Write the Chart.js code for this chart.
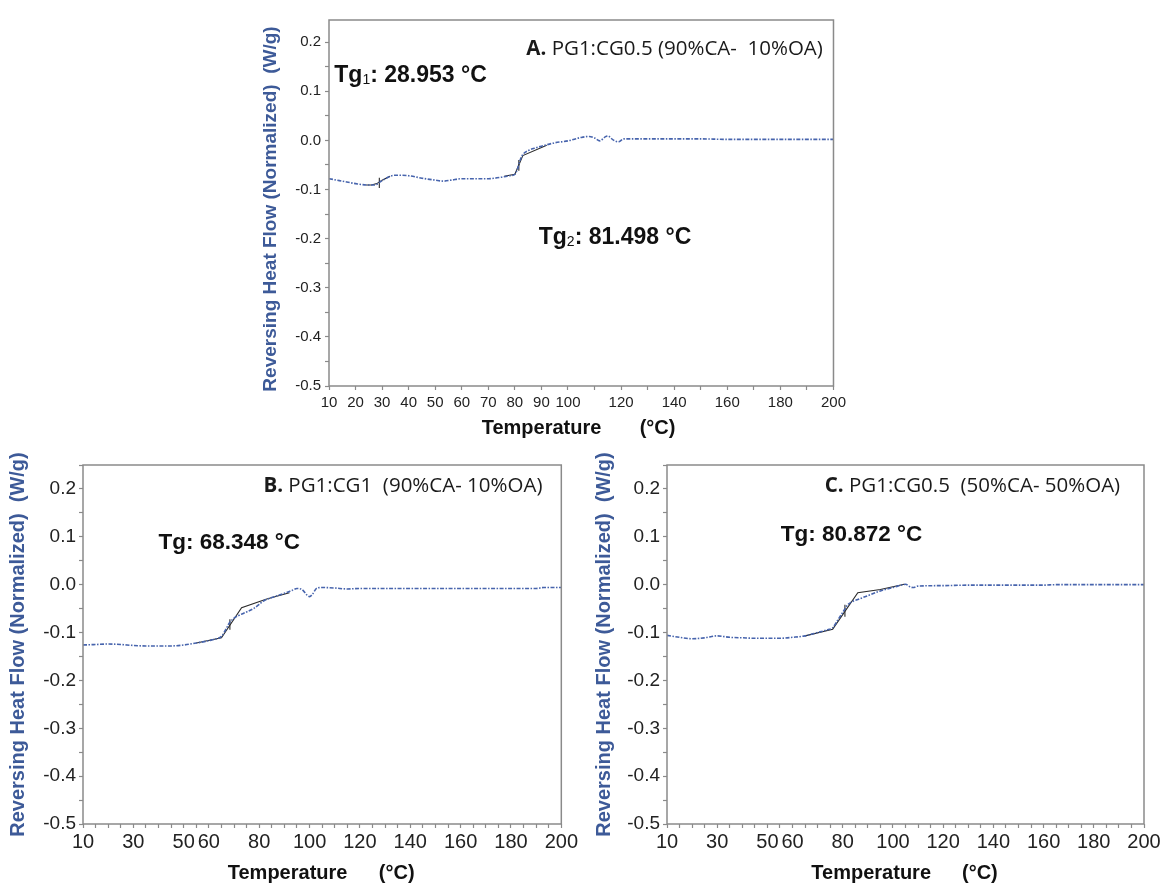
<!DOCTYPE html>
<html>
<head>
<meta charset="utf-8">
<title>Reversing heat flow</title>
<script src="https://cdn.jsdelivr.net/npm/chart.js@4.4.0/dist/chart.umd.min.js"></script>
<style>
  html, body { margin: 0; padding: 0; background: #fff; }
  #page { position: relative; width: 1165px; height: 884px; overflow: hidden; background: #fff; }
  canvas { position: absolute; }
</style>
</head>
<body>
<div id="page">
  <canvas id="chartA" width="620" height="445" style="left:230px;top:0"></canvas>
  <canvas id="chartB" width="580" height="444" style="left:0;top:440px"></canvas>
  <canvas id="chartC" width="582" height="444" style="left:583px;top:440px"></canvas>
</div>
<script>
// reversing heat flow curves (W/g) against temperature (°C)
const tempA = [10, 15, 20, 25, 27, 30, 33, 35, 40, 45, 50, 53, 56, 60, 65, 70, 75, 78, 80, 81, 82, 83, 85, 88, 90, 95, 100, 105, 108, 110, 112, 114, 115, 117, 119, 121, 130, 140, 150, 160, 170, 180, 190, 200];
const flowA = [-0.078, -0.083, -0.088, -0.091, -0.091, -0.082, -0.073, -0.071, -0.072, -0.077, -0.081, -0.083, -0.081, -0.078, -0.078, -0.078, -0.075, -0.072, -0.069, -0.058, -0.040, -0.029, -0.021, -0.015, -0.012, -0.005, -0.001, 0.006, 0.008, 0.005, -0.001, 0.007, 0.009, 0.001, -0.003, 0.003, 0.003, 0.003, 0.003, 0.002, 0.002, 0.002, 0.002, 0.002];

const tempB = [10, 15, 20, 25, 30, 35, 40, 45, 50, 55, 60, 63, 65, 67, 68, 70, 72, 75, 78, 80, 82, 85, 90, 93, 95, 97, 99, 100, 101, 103, 105, 110, 115, 120, 140, 160, 180, 190, 193, 200];
const flowB = [-0.126, -0.125, -0.124, -0.125, -0.127, -0.128, -0.128, -0.128, -0.126, -0.122, -0.117, -0.113, -0.108, -0.091, -0.081, -0.070, -0.064, -0.057, -0.049, -0.041, -0.033, -0.027, -0.018, -0.012, -0.008, -0.010, -0.022, -0.025, -0.021, -0.007, -0.006, -0.007, -0.009, -0.008, -0.008, -0.008, -0.008, -0.008, -0.006, -0.006];

const tempC = [10, 15, 20, 25, 30, 35, 40, 45, 50, 55, 60, 65, 70, 74, 76, 78, 80, 82, 84, 86, 90, 95, 100, 104, 105, 107, 108, 110, 120, 130, 160, 165, 200];
const flowC = [-0.106, -0.110, -0.113, -0.111, -0.107, -0.110, -0.111, -0.112, -0.112, -0.112, -0.110, -0.107, -0.100, -0.094, -0.090, -0.074, -0.058, -0.042, -0.035, -0.031, -0.023, -0.013, -0.006, 0.000, 0.001, -0.005, -0.006, -0.003, -0.002, -0.001, -0.001, 0.000, 0.000];

// tangent construction lines used for the Tg analysis
const fitTempA1 = [24, 26, 28, 30, 33];
const fitFlowA1 = [-0.091, -0.091, -0.088, -0.081, -0.073];
const fitTempA2 = [76, 80, 81.5, 83, 92];
const fitFlowA2 = [-0.073, -0.069, -0.050, -0.031, -0.010];
const fitTempB = [55, 65, 73, 83, 92];
const fitFlowB = [-0.122, -0.111, -0.048, -0.030, -0.017];
const fitTempC = [65, 76, 86, 95, 104.5];
const fitFlowC = [-0.107, -0.093, -0.017, -0.010, 0.001];

// glass transition temperatures and the span of their marker ticks
const tgA = [28.953, 81.498];
const tgSpanA = [[-0.076, -0.097], [-0.040, -0.062]];
const tgB = [68.348];
const tgSpanB = [[-0.072, -0.094]];
const tgC = [80.872];
const tgSpanC = [[-0.042, -0.067]];

// tick labels
const xLabelsA = [10, 20, 30, 40, 50, 60, 70, 80, 90, 100, 120, 140, 160, 180, 200];
const xLabelsBC = [10, 30, 50, 60, 80, 100, 120, 140, 160, 180, 200];
const yLabels = [-0.5, -0.4, -0.3, -0.2, -0.1, 0.0, 0.1, 0.2];

const SANS = '"Liberation Sans", Arial, sans-serif';
const NOTE = '"Open Sans", "Liberation Sans", sans-serif';
const FRAME = '#8a8a8a';
const CURVE = '#4764ad';
const AXIS_TITLE = '#3d5a98';

function points(xs, ys) {
  return xs.map((x, i) => ({ x: x, y: ys[i] }));
}

function curveSet(xs, ys) {
  return {
    data: points(xs, ys), borderColor: CURVE, borderWidth: 1.6,
    borderDash: [4, 1.5, 1.5, 1.5], pointRadius: 0, cubicInterpolationMode: 'monotone'
  };
}

function fitSet(xs, ys) {
  return { data: points(xs, ys), borderColor: '#2a2a2a', borderWidth: 1.1, pointRadius: 0, tension: 0 };
}

function markerSets(tgs, spans) {
  return tgs.map((t, i) => ({
    data: [{ x: t, y: spans[i][0] }, { x: t, y: spans[i][1] }],
    borderColor: '#2a2a2a', borderWidth: 1.1, pointRadius: 0
  }));
}

// frame, axis titles and the text notes inside each panel
const panelText = {
  id: 'panelText',
  afterDraw(chart, args, o) {
    const { ctx, chartArea: a, scales: { x, y } } = chart;
    ctx.save();
    ctx.strokeStyle = FRAME;
    ctx.lineWidth = 1.5;
    ctx.strokeRect(a.left, a.top, a.right - a.left, a.bottom - a.top);

    // y title
    ctx.save();
    ctx.translate(a.left - o.yTitleGap, (a.top + a.bottom) / 2 + o.yTitleShift);
    ctx.rotate(-Math.PI / 2);
    ctx.fillStyle = AXIS_TITLE;
    ctx.font = 'bold ' + o.yTitleSize + 'px ' + SANS;
    ctx.textAlign = 'center';
    ctx.textBaseline = 'middle';
    ctx.fillText('Reversing Heat Flow (Normalized)  (W/g)', 0, 0);
    ctx.restore();

    // x title
    ctx.fillStyle = '#111';
    ctx.font = 'bold ' + o.xTitleSize + 'px ' + SANS;
    ctx.textAlign = 'left';
    ctx.textBaseline = 'middle';
    ctx.fillText('Temperature', x.getPixelForValue(o.xTitleAt[0]), a.bottom + o.xTitleGap);
    ctx.fillText('(°C)', x.getPixelForValue(o.xTitleAt[1]), a.bottom + o.xTitleGap);

    // sample name
    ctx.fillStyle = '#1a1a1a';
    ctx.textBaseline = 'middle';
    ctx.font = o.noteSize + 'px ' + NOTE;
    const nameW = ctx.measureText(o.name).width;
    const nx = x.getPixelForValue(o.noteAt[0]);
    const ny = y.getPixelForValue(o.noteAt[1]);
    ctx.textAlign = 'right';
    ctx.fillText(o.name, nx, ny);
    ctx.font = 'bold ' + o.noteSize + 'px ' + NOTE;
    ctx.fillText(o.tag + ' ', nx - nameW, ny);

    // Tg values
    o.tg.forEach(t => {
      let px = x.getPixelForValue(t.at[0]);
      const py = y.getPixelForValue(t.at[1]);
      ctx.textAlign = 'left';
      ctx.fillStyle = '#111';
      ctx.font = 'bold ' + o.tgSize + 'px ' + SANS;
      ctx.fillText('Tg', px, py);
      px += ctx.measureText('Tg').width;
      if (t.sub) {
        ctx.font = Math.round(o.tgSize * 0.62) + 'px ' + SANS;
        ctx.fillText(t.sub, px, py + o.tgSize * 0.2);
        px += ctx.measureText(t.sub).width;
      }
      ctx.font = 'bold ' + o.tgSize + 'px ' + SANS;
      ctx.fillText(': ' + t.value.toFixed(3) + ' °C', px, py);
    });
    ctx.restore();
  }
};

function near(list, v, eps) {
  return list.some(l => Math.abs(l - v) < eps);
}

function makeOptions(c) {
  return {
    responsive: false,
    animation: false,
    devicePixelRatio: 1,
    layout: { padding: { top: c.top, right: c.right, left: 0, bottom: 0 } },
    plugins: { legend: { display: false }, tooltip: { enabled: false }, panelText: c.text },
    scales: {
      x: {
        type: 'linear', min: 10, max: 200,
        border: { display: false },
        grid: { drawOnChartArea: false, tickLength: 4, tickColor: FRAME, tickWidth: 1.2 },
        ticks: {
          stepSize: c.xStep, autoSkip: false, maxRotation: 0, includeBounds: false,
          padding: c.xPad, color: '#222', font: { family: SANS, size: c.xFont },
          callback: v => near(c.xLabels, v, 0.01) ? String(Math.round(v)) : ''
        },
        afterFit: s => { s.height = c.xHeight; }
      },
      y: {
        type: 'linear', min: -0.5, max: c.yMax,
        border: { display: false },
        grid: { drawOnChartArea: false, tickLength: 4, tickColor: FRAME, tickWidth: 1.2 },
        ticks: {
          stepSize: 0.05, autoSkip: false, includeBounds: false,
          padding: c.yPad, color: '#222', font: { family: SANS, size: c.yFont },
          callback: v => near(yLabels, v, 0.001) ? (Math.round(v * 10) / 10).toFixed(1) : ''
        },
        afterFit: s => { s.width = c.yWidth; }
      }
    }
  };
}

Chart.register(panelText);

new Chart(document.getElementById('chartA'), {
  type: 'line',
  data: {
    datasets: [
      curveSet(tempA, flowA),
      fitSet(fitTempA1, fitFlowA1),
      fitSet(fitTempA2, fitFlowA2),
      ...markerSets(tgA, tgSpanA)
    ]
  },
  options: makeOptions({
    top: 20, right: 16, xHeight: 59, yWidth: 99, yMax: 0.245,
    xStep: 10, xLabels: xLabelsA, xFont: 15, yFont: 15, xPad: 4, yPad: 4,
    text: {
      yTitleGap: 58, yTitleShift: 6, yTitleSize: 19,
      xTitleAt: [67.5, 127], xTitleGap: 42, xTitleSize: 20,
      tag: 'A.', name: 'PG1:CG0.5 (90%CA-  10%OA)', noteAt: [196, 0.185], noteSize: 20.5,
      tgSize: 23,
      tg: [
        { sub: '1', value: tgA[0], at: [12, 0.131] },
        { sub: '2', value: tgA[1], at: [89, -0.198] }
      ]
    }
  })
});

new Chart(document.getElementById('chartB'), {
  type: 'line',
  data: {
    datasets: [
      curveSet(tempB, flowB),
      fitSet(fitTempB, fitFlowB),
      ...markerSets(tgB, tgSpanB)
    ]
  },
  options: makeOptions({
    top: 25, right: 18, xHeight: 60, yWidth: 83, yMax: 0.25,
    xStep: 5, xLabels: xLabelsBC, xFont: 20, yFont: 19, xPad: 2, yPad: 3,
    text: {
      yTitleGap: 65, yTitleShift: 0, yTitleSize: 20,
      xTitleAt: [67.5, 127.5], xTitleGap: 49, xTitleSize: 20,
      tag: 'B.', name: 'PG1:CG1  (90%CA- 10%OA)', noteAt: [192.5, 0.205], noteSize: 20.5,
      tgSize: 22.5,
      tg: [{ value: tgB[0], at: [40, 0.087] }]
    }
  })
});

new Chart(document.getElementById('chartC'), {
  type: 'line',
  data: {
    datasets: [
      curveSet(tempC, flowC),
      fitSet(fitTempC, fitFlowC),
      ...markerSets(tgC, tgSpanC)
    ]
  },
  options: makeOptions({
    top: 25, right: 21, xHeight: 60, yWidth: 84, yMax: 0.25,
    xStep: 5, xLabels: xLabelsBC, xFont: 20, yFont: 19, xPad: 2, yPad: 3,
    text: {
      yTitleGap: 63, yTitleShift: 0, yTitleSize: 20,
      xTitleAt: [67.5, 127.5], xTitleGap: 49, xTitleSize: 20,
      tag: 'C.', name: 'PG1:CG0.5  (50%CA- 50%OA)', noteAt: [190.5, 0.205], noteSize: 20.5,
      tgSize: 22.5,
      tg: [{ value: tgC[0], at: [55.3, 0.105] }]
    }
  })
});
</script>
</body>
</html>
